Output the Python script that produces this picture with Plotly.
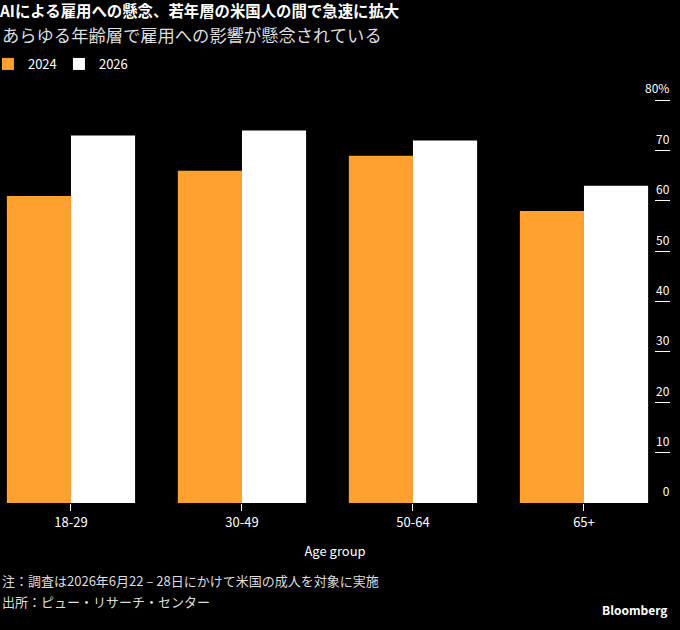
import plotly.graph_objects as go

age_groups = ['18-29', '30-49', '50-64', '65+']
share_2024 = [61, 66, 69, 58]
share_2026 = [73, 74, 72, 63]
y_ticks = [0, 10, 20, 30, 40, 50, 60, 70, 80]
y_tick_text = ['0', '10', '20', '30', '40', '50', '60', '70', '80%']

font = 'Noto Sans CJK JP'
orange = '#FFA12F'

fig = go.Figure()

fig.add_trace(go.Bar(x=age_groups, y=share_2024, name='2024', marker=dict(color=orange, line=dict(width=0))))
fig.add_trace(go.Bar(x=age_groups, y=share_2026, name='2026', marker=dict(color='#FFFFFF', line=dict(width=0))))

# plot area: 0% sits at y=503px, 80% at y=100px (range padded on top so the 80% label shows)
top, bottom = 60, 127
plot_h = 630 - top - bottom

fig.update_layout(
    width=680, height=630,
    paper_bgcolor='black', plot_bgcolor='black',
    font=dict(family=font, color='white', size=13),
    margin=dict(l=0, r=10, t=top, b=bottom, autoexpand=False),
    barmode='group', bargap=0.25, bargroupgap=0,
    showlegend=True,
    legend=dict(orientation='h', x=-0.018, xanchor='left', y=(503 - 64) / plot_h, yanchor='middle',
                font=dict(size=13, color='white'), itemwidth=30, traceorder='normal',
                entrywidth=26, entrywidthmode='pixels', bgcolor='rgba(0,0,0,0)'),
    title=dict(text='<b>AIによる雇用への懸念、若年層の米国人の間で急速に拡大</b>',
               x=0, xref='container', xanchor='left', y=1 - 12 / 630, yref='container', yanchor='middle',
               font=dict(size=15.4, color='white', family=font)),
)

fig.update_xaxes(
    range=[-0.415, 3.503], showgrid=False, zeroline=False, showline=False,
    ticks='outside', ticklen=7, tickcolor='white', tickwidth=1,
    tickfont=dict(size=13, color='white'),
    title=dict(text='Age group', font=dict(size=13, color='white'), standoff=17),
)

fig.update_yaxes(
    range=[0, 88], side='right', showgrid=False, zeroline=False, showline=False,
    tickvals=y_ticks, ticktext=y_tick_text,
    ticks='inside', ticklen=15, tickcolor='white', tickwidth=1,
    ticklabelposition='inside', ticklabelstandoff=-15, ticklabelshift=-11,
    tickfont=dict(size=12, color='white'),
)

fig.add_annotation(text='あらゆる年齢層で雇用への影響が懸念されている', xref='paper', yref='paper',
                   x=0, y=(503 - 35) / plot_h, xanchor='left', yanchor='middle', showarrow=False,
                   font=dict(size=17.3, color='#DDDDDD'))
fig.add_annotation(text='注：調査は2026年6月22 – 28日にかけて米国の成人を対象に実施', xref='paper', yref='paper',
                   x=0, y=(503 - 580) / plot_h, xanchor='left', yanchor='middle', showarrow=False,
                   font=dict(size=13, color='#DDDDDD'))
fig.add_annotation(text='出所：ピュー・リサーチ・センター', xref='paper', yref='paper',
                   x=0, y=(503 - 601) / plot_h, xanchor='left', yanchor='middle', showarrow=False,
                   font=dict(size=13, color='#DDDDDD'))
fig.add_annotation(text='<b>Bloomberg</b>', xref='paper', yref='paper',
                   x=1, y=(503 - 609) / plot_h, xanchor='right', yanchor='middle', showarrow=False,
                   font=dict(size=12, color='white'))

fig.write_html('out.html', config={'displayModeBar': False},
               post_script="document.body.style.margin='0';document.body.style.background='black';")
